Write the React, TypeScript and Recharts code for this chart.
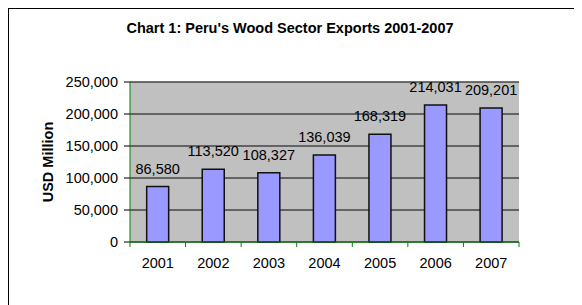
import React from 'react';
import {
  BarChart,
  Bar,
  XAxis,
  YAxis,
  CartesianGrid,
  LabelList,
} from 'recharts';

const years = ['2001', '2002', '2003', '2004', '2005', '2006', '2007'];
const exportsUsd = [86580, 113520, 108327, 136039, 168319, 214031, 209201];
const yTicks = [0, 50000, 100000, 150000, 200000, 250000];

const data = years.map((year, i) => ({ year, value: exportsUsd[i] }));

const FONT = '"Liberation Sans", Arial, sans-serif';
const FS = 14.5;
const PLOT_W = 389;
const HALF = PLOT_W / years.length / 2;

const fmt = (v: number) => v.toLocaleString('en-US');

const YearTick = (props: any) => {
  const { x, y, payload, index } = props;
  return (
    <g>
      <line x1={x - HALF} x2={x - HALF} y1={y} y2={y + 5} stroke="#008000" />
      {index === years.length - 1 && (
        <line x1={x + HALF} x2={x + HALF} y1={y} y2={y + 5} stroke="#008000" />
      )}
      <text x={x} y={y + 26} textAnchor="middle" fill="#000" fontSize={FS} fontFamily={FONT}>
        {payload.value}
      </text>
    </g>
  );
};

const YLabel = (props: any) => {
  const { viewBox } = props;
  const cx = viewBox.x - 2;
  const cy = viewBox.y + viewBox.height / 2;
  return (
    <text
      x={cx}
      y={cy}
      transform={`rotate(-90, ${cx}, ${cy})`}
      textAnchor="middle"
      dominantBaseline="central"
      fontWeight="bold"
      fontSize={FS}
      fontFamily={FONT}
      fill="#000"
    >
      USD Million
    </text>
  );
};

export default function App() {
  return (
    <div style={{ position: 'relative', width: 574, height: 297, fontFamily: FONT }}>
      <div
        style={{
          position: 'absolute',
          left: 0,
          top: 0,
          width: 574,
          height: 297,
          borderTop: '1px solid #000',
          borderLeft: '1px solid #000',
          boxSizing: 'border-box',
        }}
      />
      <div
        style={{
          position: 'absolute',
          left: 0,
          top: 12,
          width: 564,
          textAlign: 'center',
          fontWeight: 'bold',
          fontSize: FS,
          lineHeight: '17px',
          color: '#000',
        }}
      >
        Chart 1: Peru's Wood Sector Exports 2001-2007
      </div>
      <BarChart
        width={574}
        height={297}
        data={data}
        margin={{ top: 74, right: 63, bottom: 23, left: 42 }}
        barCategoryGap="30%"
        style={{ position: 'absolute', left: 0, top: 0 }}
      >
        <CartesianGrid vertical={false} stroke="#454545" strokeWidth={1.3} fill="#C0C0C0" fillOpacity={1} />
        <XAxis
          dataKey="year"
          height={40}
          tickSize={0}
          tickMargin={0}
          tickLine={false}
          axisLine={{ stroke: '#008000' }}
          tick={<YearTick />}
          interval={0}
        />
        <XAxis xAxisId="top" dataKey="year" orientation="top" height={0} tick={false} tickLine={false} axisLine={{ stroke: '#008000' }} />
        <YAxis
          domain={[0, 250000]}
          ticks={yTicks}
          width={80}
          tickSize={6}
          tickMargin={6}
          tickLine={{ stroke: '#000' }}
          axisLine={{ stroke: '#008000' }}
          tick={{ fill: '#000', fontSize: FS, fontFamily: FONT }}
          tickFormatter={fmt}
          label={<YLabel />}
        />
        <YAxis yAxisId="right" orientation="right" width={0} domain={[0, 250000]} tick={false} tickLine={false} axisLine={{ stroke: '#008000' }} />
        <Bar dataKey="value" fill="#9999FF" stroke="#111" strokeWidth={1.5} isAnimationActive={false}>
          <LabelList
            dataKey="value"
            position="top"
            offset={13}
            formatter={(v: any) => fmt(Number(v))}
            fill="#000"
            fontSize={FS}
            fontFamily={FONT}
          />
        </Bar>
      </BarChart>
    </div>
  );
}
